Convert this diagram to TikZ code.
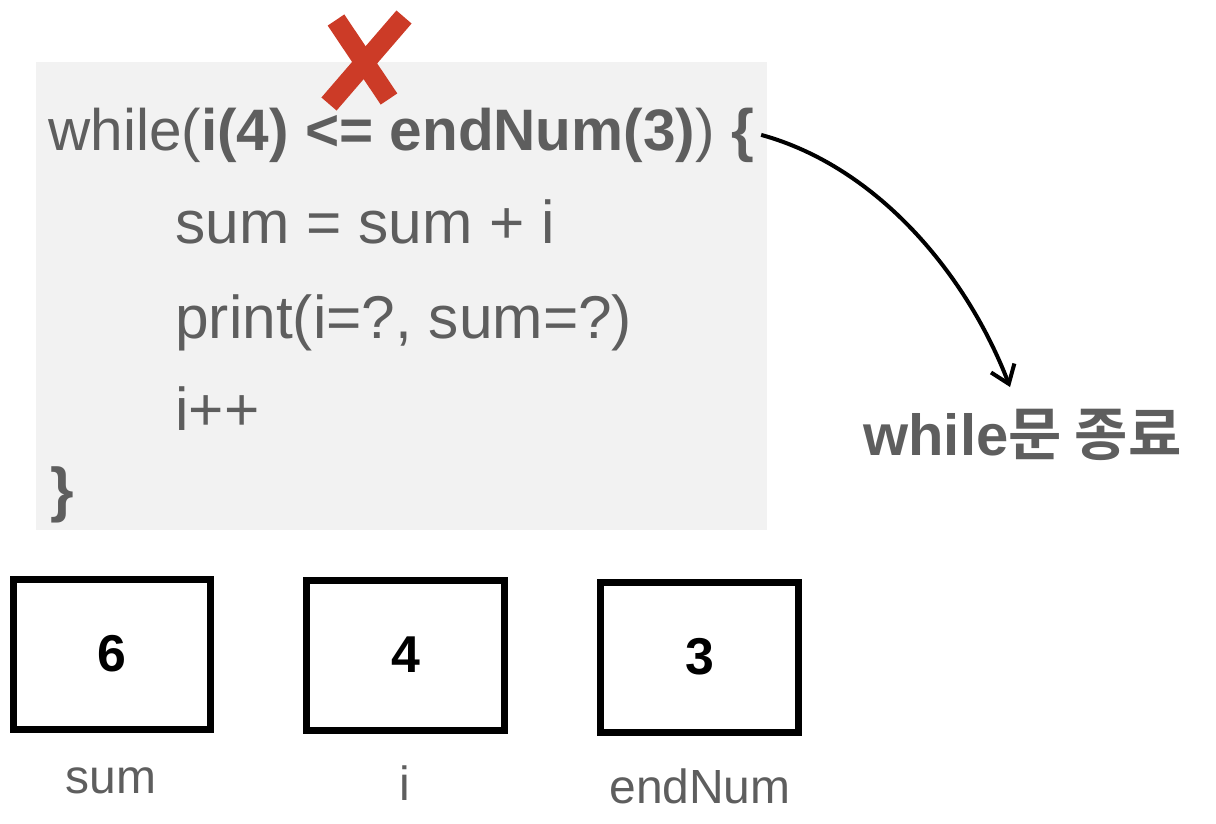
\documentclass[tikz,border=0pt]{standalone}
\usepackage{fontspec}
\setmainfont{Liberation Sans}
\newfontfamily\krfont{Noto Sans CJK KR}[BoldFont={Noto Sans CJK KR Bold}]
\usetikzlibrary{arrows.meta,positioning}
\definecolor{codegray}{HTML}{5E5E5E}
\definecolor{panelgray}{HTML}{F2F2F2}
\definecolor{crossred}{HTML}{CC3B27}

\begin{document}
\begin{tikzpicture}[x=0.02cm, y=-0.02cm,
    code/.style={anchor=base west, inner sep=0pt, text=codegray, font=\fontsize{34.4}{40}\selectfont},
    varbox/.style={draw=black, line width=0.14cm, minimum width=3.96cm, minimum height=3cm, inner sep=0pt, font=\fontsize{29.5}{34}\selectfont\bfseries},
    varname/.style={anchor=base, inner sep=0pt, text=codegray, font=\fontsize{27.3}{32}\selectfont},
    flow/.style={line width=0.08cm, -{Straight Barb[length=0.34cm, width=0.5cm]}}]
    \useasboundingbox (0,0) rectangle (1216,823);

    \fill[panelgray] (36,62) rectangle (767,530);

    \node[code, font=\fontsize{33.3}{40}\selectfont] (cond) at (48,150) {while(\textbf{i(4) <= endNum(3)})~\textbf{\{}};
    \node[code] (body1) at (175,243) {sum = sum + i};
    \node[code] (body2) at (175,338) {print(i=?, sum=?)};
    \node[code] (body3) at (175,430) {i++};
    \node[code] (close) at (50,510) {\textbf{\}}};

    \draw[crossred, line width=0.4cm] (336,20) -- (389,99);
    \draw[crossred, line width=0.4cm] (404,17) -- (329,104);

    \node[code, font=\fontsize{33}{40}\selectfont\bfseries] (exitlbl) at (863,455) {while{\krfont 문 종료}};
    \coordinate (exittip) at (1010,387);
    \draw[flow] ([xshift=0.14cm]cond.east) .. controls (878,167) and (967,275) .. (exittip);

    \node[varbox] (sumbox) at (112,654) {6};
    \node[varbox] (ibox) at (405.5,655) {4};
    \node[varbox] (endbox) at (699.5,657) {3};

    \node[varname] (sumname) at (111,793) {sum};
    \node[varname] (iname) at (405,800) {i};
    \node[varname] (endname) at (700,803) {endNum};
\end{tikzpicture}
\end{document}
